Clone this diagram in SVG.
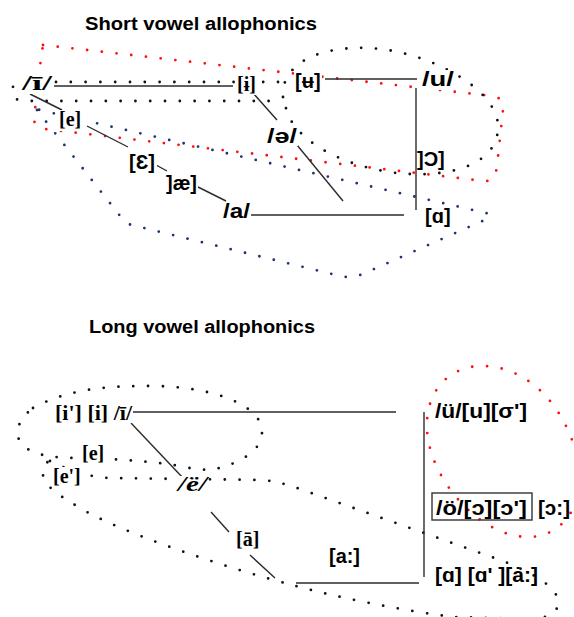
<svg xmlns="http://www.w3.org/2000/svg" width="574" height="617" viewBox="0 0 574 617">
  <style>
    .bg { fill: #ffffff; }
    .dots { fill: none; stroke-width: 2.8; stroke-linecap: round; stroke-dasharray: 0 14.8; }
    .blk { stroke: #111111; }
    .red { stroke: #ff1010; }
    .navy { stroke: #1c3470; }
    .link { stroke: #2b2b2b; stroke-width: 1.4; fill: none; }
    .box { fill: none; stroke: #333333; stroke-width: 1.4; }
    .title { font-family: "Liberation Sans", Arial, sans-serif; font-weight: bold; font-size: 18px; fill: #000; }
    .sans { font-family: "Liberation Sans", "DejaVu Sans", sans-serif; font-weight: bold; font-size: 20px; fill: #000; }
    .serif { font-family: "Liberation Serif", "DejaVu Serif", serif; font-weight: bold; font-size: 20px; fill: #000; }
    .lbl { fill: #ffffff; }
  </style>
  <rect class="bg" x="0" y="0" width="574" height="617"/>

  <!-- section titles -->
  <text class="title" x="85" y="30" textLength="232" lengthAdjust="spacingAndGlyphs">Short vowel allophonics</text>
  <text class="title" x="89" y="333" textLength="226" lengthAdjust="spacingAndGlyphs">Long vowel allophonics</text>

  <!-- dotted groupings -->
  <g id="regions">
    <!-- upper chart -->
    <path class="dots red" d="M 43 45 L 492 96 Q 505 98 503 110 L 497 166 Q 495 182 484 181 L 45 129 Q 34 128 34 118 L 41 58 Z"/>
    <path class="dots navy" d="M 37 110 L 124 221 Q 128 225 140 227 L 340 276 Q 352 279 365 273 L 487 219 Q 494 215 486 213 L 48 112 Q 40 109 37 110 Z"/>
    <path class="dots blk" d="M 278 82 H 26 Q 12 82 12 91 Q 12 101 26 101 H 280"/>
    <path class="dots blk" d="M 283 97 C 281 75 300 50 355 48 C 420 45 500 88 498 128 C 497 165 450 176 410 174 C 360 172 300 148 287 112 Z"/>
    <!-- lower chart -->
    <path class="dots blk" d="M 33 408 C 70 388 110 386 150 386 C 200 386 240 398 256 416 C 268 432 262 450 238 461 C 220 470 205 472 185 467 C 160 462 120 459 80 458 C 50 458 30 455 20 442 C 14 430 20 418 33 408 Z"/>
    <path class="dots blk" d="M 50 461 C 68 470 88 477 110 478 L 262 480 C 275 481 285 484 300 489 L 503 561 C 530 572 555 585 558 600 C 560 612 548 619 530 619 L 453 617 C 400 610 340 598 292 585 C 220 566 120 532 80 508 C 60 496 44 486 43 475 C 42 468 44 463 50 461 Z"/>
    <path class="dots red" d="M 580 470 C 582 510 560 537 528 537 C 480 537 430 480 427 430 C 425 390 450 366 482 366 C 530 366 570 410 580 470 Z"/>
  </g>

  <!-- connectors -->
  <g id="connectors">
    <line class="link" x1="54" y1="86" x2="233" y2="86"/>
    <line class="link" x1="30" y1="94" x2="62" y2="110"/>
    <line class="link" x1="87" y1="126" x2="128" y2="147"/>
    <line class="link" x1="156" y1="165" x2="167" y2="171"/>
    <line class="link" x1="198" y1="187" x2="226" y2="201"/>
    <line class="link" x1="248" y1="215" x2="404" y2="215"/>
    <line class="link" x1="253" y1="93" x2="277" y2="120"/>
    <line class="link" x1="297" y1="145" x2="343" y2="201"/>
    <line class="link" x1="325" y1="79" x2="417" y2="79"/>
    <line class="link" x1="416" y1="88" x2="416" y2="210"/>

    <line class="link" x1="133" y1="412" x2="396" y2="412"/>
    <line class="link" x1="131" y1="423" x2="183" y2="478"/>
    <line class="link" x1="211" y1="512" x2="229" y2="532"/>
    <line class="link" x1="250" y1="555" x2="275" y2="578"/>
    <line class="link" x1="424" y1="412" x2="424" y2="577"/>
    <line class="link" x1="296" y1="583" x2="419" y2="583"/>
  </g>

  <!-- short vowels -->
  <g id="s-i-macron"><rect class="lbl" x="20" y="73" width="34" height="21"/><text class="serif" x="22" y="90" font-size="22" textLength="30" lengthAdjust="spacingAndGlyphs">/ī/</text></g>
  <g id="s-i-bar"><rect class="lbl" x="236" y="74" width="22" height="21"/><text class="serif" x="237" y="91" font-size="20">[ɨ]</text></g>
  <g id="s-e"><rect class="lbl" x="58" y="110" width="27" height="21"/><text class="serif" x="59" y="126" font-size="22">[e]</text></g>
  <g id="s-epsilon"><rect class="lbl" x="128" y="151" width="29" height="22"/><text class="sans" x="129" y="169" font-size="21">[Ɛ]</text></g>
  <g id="s-ae"><rect class="lbl" x="165" y="175" width="33" height="19"/><text class="sans" x="166" y="190" font-size="20" textLength="31" lengthAdjust="spacingAndGlyphs">]æ]</text></g>
  <g id="s-a"><rect class="lbl" x="222" y="202" width="29" height="20"/><text class="sans" x="223" y="218" font-size="21" textLength="27" lengthAdjust="spacingAndGlyphs">/a/</text></g>
  <g id="s-schwa"><rect class="lbl" x="266" y="128" width="32" height="18"/><text class="sans" x="267" y="143" textLength="30" lengthAdjust="spacingAndGlyphs">/ə/</text></g>
  <g id="s-u-bar"><rect class="lbl" x="294" y="70" width="28" height="22"/><text class="sans" x="295" y="88">[ʉ]</text></g>
  <g id="s-u"><rect class="lbl" x="421" y="70" width="34" height="20"/><text class="sans" x="422" y="86" font-size="21" textLength="32" lengthAdjust="spacingAndGlyphs">/u/</text></g>
  <g id="s-open-o"><text class="sans" x="417" y="166" font-size="21">]Ɔ]</text></g>
  <g id="s-alpha"><rect class="lbl" x="424" y="206" width="26" height="20"/><text class="sans" x="425" y="223">[ɑ]</text></g>

  <!-- long vowels -->
  <g id="l-i"><rect class="lbl" x="54" y="405" width="79" height="18"/><text class="serif" x="55" y="420" font-size="18" textLength="77" lengthAdjust="spacingAndGlyphs">[i'] [i] /ī/</text></g>
  <g id="l-e"><rect class="lbl" x="81" y="445" width="30" height="18"/><text class="serif" x="82" y="460" font-size="19">[e]</text></g>
  <g id="l-e-long"><rect class="lbl" x="52" y="467" width="31" height="19"/><text class="serif" x="53" y="483" font-size="19">[e']</text></g>
  <g id="l-e-diaeresis"><rect class="lbl" x="177" y="476" width="31" height="18"/><text class="serif" x="178" y="491" font-style="italic" textLength="29" lengthAdjust="spacingAndGlyphs">/ë/</text></g>
  <g id="l-a-macron"><rect class="lbl" x="235" y="530" width="26" height="19"/><text class="serif" x="236" y="546" font-size="19">[ā]</text></g>
  <g id="l-u"><text class="sans" x="435" y="418" font-size="19" textLength="92" lengthAdjust="spacingAndGlyphs">/ü/[u][σ']</text></g>
  <g id="l-o"><rect class="box" x="432" y="493" width="100" height="27"/><text class="sans" x="436" y="515" font-size="19" textLength="91" lengthAdjust="spacingAndGlyphs">/ö/[ɔ][ɔ']</text></g>
  <g id="l-open-o-long"><text class="sans" x="538" y="515" font-size="19" textLength="32" lengthAdjust="spacingAndGlyphs">[ɔ:]</text></g>
  <g id="l-a-long"><text class="sans" x="329" y="563" font-size="19" textLength="31" lengthAdjust="spacingAndGlyphs">[a:]</text></g>
  <g id="l-alpha"><text class="sans" x="435" y="582" font-size="19" textLength="103" lengthAdjust="spacingAndGlyphs">[ɑ] [ɑ' ][ȧ:]</text></g>
</svg>
